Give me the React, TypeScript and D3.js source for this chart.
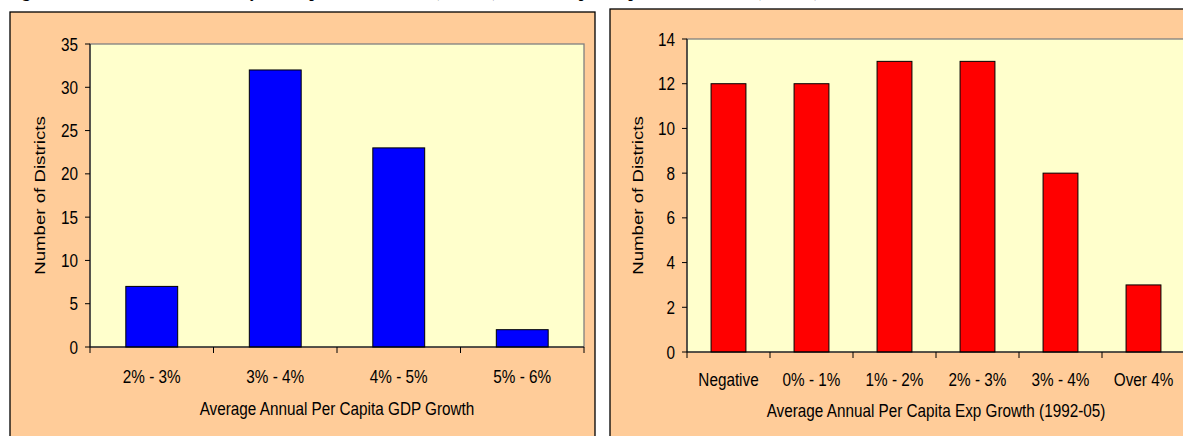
import React from 'react';
import * as d3 from 'd3';

// GDP growth histogram (left)
const gdpCategories = ['2% - 3%', '3% - 4%', '4% - 5%', '5% - 6%'];
const gdpCounts = [7, 32, 23, 2];
const gdpTicks = [0, 5, 10, 15, 20, 25, 30, 35];

// Expenditure growth histogram (right)
const expCategories = ['Negative', '0% - 1%', '1% - 2%', '2% - 3%', '3% - 4%', 'Over 4%'];
const expCounts = [12, 12, 13, 13, 8, 3];
const expTicks = [0, 2, 4, 6, 8, 10, 12, 14];

const FONT = 'Liberation Sans, Arial, sans-serif';
const FS = 15.3;
const STRETCH = 1.22; // the reference text is a bit taller than it is wide

// text with the vertical stretch of the source bitmap
const Label = ({ x, y, anchor = 'middle', rotate = false, children }: any) => (
  <text
    transform={rotate
      ? `translate(${x},${y}) rotate(-90) scale(${STRETCH},1)`
      : `translate(${x},${y}) scale(1,${STRETCH})`}
    dy="0.35em"
    textAnchor={anchor}
    fontFamily={FONT}
    fontSize={FS}
    fill="#000"
  >
    {children}
  </text>
);

type PanelProps = {
  panel: { x: number; y: number; w: number; h: number };
  plot: { x0: number; x1: number; y0: number; y1: number };
  categories: string[];
  values: number[];
  ticks: number[];
  yMax: number;
  color: string;
  xTitle: string;
  yTitleX: number;
  labelGap: number;
  titleGap: number;
};

const Panel = ({ panel, plot, categories, values, ticks, yMax, color, xTitle, yTitleX, labelGap, titleGap }: PanelProps) => {
  const x = d3.scaleBand<string>().domain(categories).range([plot.x0, plot.x1]).padding(0);
  const y = d3.scaleLinear().domain([0, yMax]).range([plot.y1, plot.y0]);
  const bw = x.bandwidth() * 0.42;

  return (
    <g>
      <rect x={panel.x} y={panel.y} width={panel.w} height={panel.h} fill="#FFCC99" stroke="#000" strokeWidth={1.3} />
      {/* plot area */}
      <rect x={plot.x0} y={plot.y0} width={plot.x1 - plot.x0} height={plot.y1 - plot.y0} fill="#FFFFCC" stroke="#808080" strokeWidth={1.3} />

      {/* bars */}
      {values.map((v, i) => {
        const cx = (x(categories[i]) as number) + x.bandwidth() / 2;
        return (
          <rect key={i} x={cx - bw / 2} y={y(v)} width={bw} height={y(0) - y(v)} fill={color} stroke="#000" strokeWidth={1} />
        );
      })}

      {/* y axis */}
      <line x1={plot.x0} x2={plot.x0} y1={plot.y0} y2={plot.y1} stroke="#000" strokeWidth={1} />
      {ticks.map(t => (
        <g key={t}>
          <line x1={plot.x0 - 5} x2={plot.x0} y1={y(t)} y2={y(t)} stroke="#000" />
          <Label x={plot.x0 - 12} y={y(t)} anchor="end">{t}</Label>
        </g>
      ))}
      <Label x={yTitleX} y={(plot.y0 + plot.y1) / 2} rotate>Number of Districts</Label>

      {/* x axis */}
      <line x1={plot.x0} x2={plot.x1} y1={plot.y1} y2={plot.y1} stroke="#000" strokeWidth={1} />
      {categories.map((c, i) => (
        <line key={'t' + i} x1={x(c) as number} x2={x(c) as number} y1={plot.y1} y2={plot.y1 + 6} stroke="#000" />
      ))}
      <line x1={plot.x1} x2={plot.x1} y1={plot.y1} y2={plot.y1 + 6} stroke="#000" />
      {categories.map(c => (
        <Label key={c} x={(x(c) as number) + x.bandwidth() / 2} y={plot.y1 + labelGap}>{c}</Label>
      ))}
      <Label x={(plot.x0 + plot.x1) / 2} y={plot.y1 + titleGap}>{xTitle}</Label>
    </g>
  );
};

const App = () => {
  return (
    <svg width={1183} height={436} style={{ position: 'absolute', left: 0, top: 0, background: '#fff' }}>
      <text x={8} y={-3} fontFamily="Liberation Serif, Times New Roman, serif" fontWeight="bold" fontSize={16} fill="#000">
        Figure 2: Distribution of Districts by Per Capita GDP Growth (1992-05) and Per Capita Expenditure Growth (1992-05)
      </text>
      <Panel
        panel={{ x: 10, y: 12, w: 585, h: 440 }}
        plot={{ x0: 90, x1: 584, y0: 44, y1: 347 }}
        categories={gdpCategories}
        values={gdpCounts}
        ticks={gdpTicks}
        yMax={35}
        color="#0000FF"
        xTitle="Average Annual Per Capita GDP Growth"
        yTitleX={40}
        labelGap={29}
        titleGap={61}
      />
      <Panel
        panel={{ x: 610, y: 9, w: 600, h: 440 }}
        plot={{ x0: 687, x1: 1185, y0: 39, y1: 352 }}
        categories={expCategories}
        values={expCounts}
        ticks={expTicks}
        yMax={14}
        color="#FF0000"
        xTitle="Average Annual Per Capita Exp Growth (1992-05)"
        yTitleX={638}
        labelGap={27}
        titleGap={58}
      />
    </svg>
  );
};

export default App;
